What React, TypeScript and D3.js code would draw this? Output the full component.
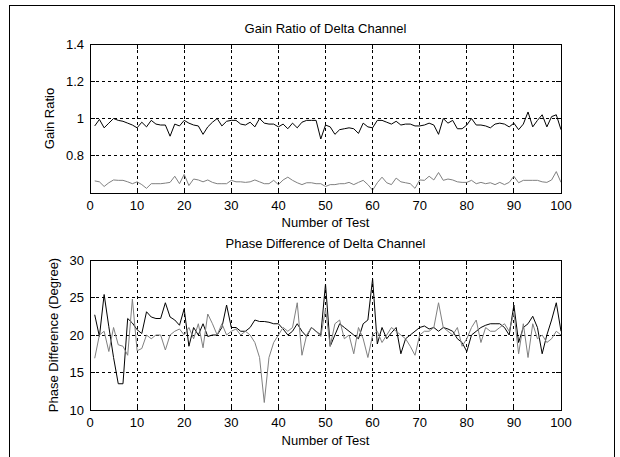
import React from "react";
import * as d3 from "d3";

const testNumbers: number[] = d3.range(1, 101);

const gainBlack: number[] = [
  0.96, 0.995, 0.95, 0.975, 1.0, 0.99, 0.985, 0.975, 0.965, 0.95,
  0.98, 0.955, 0.99, 0.97, 0.965, 0.965, 0.905, 0.97, 0.96, 0.99,
  0.975, 0.965, 0.96, 0.915, 0.955, 0.98, 1.0, 0.96, 0.985, 0.99,
  0.99, 0.97, 0.965, 0.98, 0.955, 1.0, 0.975, 0.97, 0.97, 0.955,
  0.97, 0.945, 0.975, 0.95, 0.98, 0.99, 0.99, 0.99, 0.89, 0.965,
  0.955, 0.915, 0.94, 0.945, 0.95, 0.945, 0.92, 0.975, 0.955, 0.95,
  0.99, 0.99, 0.98, 0.97, 0.985, 0.965, 0.97, 0.97, 0.96, 0.96,
  0.965, 0.975, 0.965, 0.915, 1.0, 0.975, 0.99, 0.945, 0.945, 0.965,
  1.0, 0.965, 0.965, 0.96, 0.95, 0.97, 0.975, 0.97, 0.955, 0.975,
  0.94, 0.97, 1.035, 0.955, 0.99, 1.02, 0.955, 1.01, 1.02, 0.94,
];

const gainGray: number[] = [
  0.665, 0.66, 0.635, 0.655, 0.67, 0.668, 0.668, 0.66, 0.65, 0.66,
  0.645, 0.625, 0.65, 0.65, 0.65, 0.653, 0.657, 0.69, 0.65, 0.7,
  0.64, 0.675, 0.67, 0.66, 0.67, 0.657, 0.65, 0.65, 0.65, 0.668,
  0.66, 0.66, 0.657, 0.66, 0.67, 0.66, 0.65, 0.65, 0.668, 0.645,
  0.67, 0.685, 0.668, 0.655, 0.645, 0.655, 0.655, 0.65, 0.65, 0.635,
  0.645, 0.645, 0.65, 0.65, 0.657, 0.645, 0.657, 0.668, 0.645, 0.615,
  0.655, 0.685, 0.655, 0.645, 0.68, 0.66, 0.655, 0.65, 0.625, 0.67,
  0.668, 0.69, 0.67, 0.71, 0.668, 0.675, 0.67, 0.66, 0.657, 0.657,
  0.668, 0.65, 0.657, 0.65, 0.655, 0.645, 0.657, 0.645, 0.657, 0.69,
  0.655, 0.668, 0.668, 0.668, 0.668, 0.66, 0.657, 0.67, 0.715, 0.657,
];

const phaseBlack: number[] = [
  22.7, 19.8, 25.4, 21.1, 17.0, 13.5, 13.5, 22.2, 21.6, 20.7,
  20.2, 23.1, 22.4, 22.2, 22.2, 24.3, 22.4, 22.0, 21.3, 23.5,
  18.5, 21.0, 20.0, 21.5, 19.8, 20.0, 20.0, 21.0, 24.0, 21.0,
  21.0, 20.5, 20.5, 21.0, 22.0, 21.8, 21.8, 21.7, 21.5, 21.5,
  20.8, 20.0, 20.5, 21.5, 20.5, 19.8, 21.0, 20.5, 20.0, 26.8,
  18.5, 20.0, 21.5, 21.0, 20.5, 20.0, 19.5, 21.5, 22.0, 27.5,
  18.8, 21.0, 19.5, 20.3, 21.0, 17.5, 19.5, 20.0, 20.5, 21.0,
  21.2, 20.8, 21.0, 20.5, 21.0, 20.8, 20.5, 19.5, 19.0, 17.8,
  20.0, 20.5, 21.0, 21.3, 21.5, 21.5, 21.5, 21.0, 20.0, 24.0,
  19.0, 21.0, 21.5, 22.5, 21.0, 17.5, 20.0, 22.0, 24.3, 20.5,
];

const phaseGray: number[] = [
  16.9, 20.0, 20.5, 17.8, 21.0, 18.7, 18.5, 17.3, 24.8, 17.9,
  18.2, 20.0, 19.5, 20.0, 20.0, 18.0, 20.0, 20.5, 20.8, 20.0,
  21.0, 19.5, 21.5, 18.3, 22.8, 21.5, 20.0, 21.5, 20.0, 20.5,
  20.8, 20.0, 20.5, 20.0, 19.0, 17.0, 11.0, 17.0, 19.0, 20.0,
  21.0, 20.5, 21.0, 24.3, 17.3, 20.0, 21.0, 20.5, 19.8, 23.5,
  18.5, 21.5, 22.0, 19.5, 20.0, 17.5, 21.0, 19.5, 17.0, 20.0,
  20.5, 19.0, 20.0, 21.0, 20.5, 20.0, 19.5, 18.5, 17.3, 20.0,
  20.5, 20.5, 21.0, 24.3, 21.0, 20.5, 20.0, 21.0, 18.5, 19.5,
  21.0, 22.0, 19.0, 21.0, 20.5, 20.5, 21.0, 21.5, 20.5, 23.0,
  17.5, 21.5, 17.0, 21.5, 19.5, 20.0, 19.0, 19.5, 20.5, 20.0,
];

const xTicks: number[] = [0, 10, 20, 30, 40, 50, 60, 70, 80, 90, 100];
const gainTicks: number[] = [0.6, 0.8, 1.0, 1.2, 1.4];
const gainTickLabels: string[] = ["", "0.8", "1", "1.2", "1.4"];
const phaseTicks: number[] = [10, 15, 20, 25, 30];
const phaseTickLabels: string[] = ["10", "15", "20", "25", "30"];

const FONT = "'Liberation Sans', Arial, sans-serif";
const FS = 13;

type PanelProps = {
  top: number;
  bottom: number;
  yDomain: [number, number];
  yTicks: number[];
  yLabels: string[];
  title: string;
  titleGap: number;
  xTitleGap: number;
  yTitle: string;
  yTitleGap: number;
  series: { values: number[]; color: string }[];
};

const LEFT = 90;
const RIGHT = 561;

function Panel({ top, bottom, yDomain, yTicks, yLabels, title, titleGap, xTitleGap, yTitle, yTitleGap, series }: PanelProps) {
  const x = d3.scaleLinear().domain([0, 100]).range([LEFT, RIGHT]);
  const y = d3.scaleLinear().domain(yDomain).range([bottom, top]);
  const tl = 5;
  return (
    <g>
      {xTicks.slice(1, -1).map((t) => (
        <line key={"gx" + t} x1={x(t)} x2={x(t)} y1={top} y2={bottom} stroke="#000" strokeWidth={1} strokeDasharray="3,3" shapeRendering="crispEdges" />
      ))}
      {yTicks.slice(1, -1).map((t) => (
        <line key={"gy" + t} x1={LEFT} x2={RIGHT} y1={y(t)} y2={y(t)} stroke="#000" strokeWidth={1} strokeDasharray="3,3" shapeRendering="crispEdges" />
      ))}
      {series.map((s, i) => {
        const line = d3
          .line<number>()
          .x((_, j) => x(testNumbers[j]))
          .y((v) => y(v));
        return <path key={i} d={line(s.values) || ""} fill="none" stroke={s.color} strokeWidth={1} />;
      })}
      {xTicks.map((t) => (
        <g key={"tx" + t}>
          <line x1={x(t)} x2={x(t)} y1={bottom} y2={bottom - tl} stroke="#000" shapeRendering="crispEdges" />
          <line x1={x(t)} x2={x(t)} y1={top} y2={top + tl} stroke="#000" shapeRendering="crispEdges" />
          <text x={x(t)} y={bottom + 17} textAnchor="middle" fontFamily={FONT} fontSize={FS}>{t}</text>
        </g>
      ))}
      {yTicks.map((t, i) => (
        <g key={"ty" + t}>
          <line x1={LEFT} x2={LEFT + tl} y1={y(t)} y2={y(t)} stroke="#000" shapeRendering="crispEdges" />
          <line x1={RIGHT} x2={RIGHT - tl} y1={y(t)} y2={y(t)} stroke="#000" shapeRendering="crispEdges" />
          <text x={LEFT - 6} y={y(t) + 4.5} textAnchor="end" fontFamily={FONT} fontSize={FS}>{yLabels[i]}</text>
        </g>
      ))}
      <rect x={LEFT} y={top} width={RIGHT - LEFT} height={bottom - top} fill="none" stroke="#000" strokeWidth={1} shapeRendering="crispEdges" />
      <text x={(LEFT + RIGHT) / 2} y={top - titleGap} textAnchor="middle" fontFamily={FONT} fontSize={FS}>{title}</text>
      <text x={(LEFT + RIGHT) / 2} y={bottom + xTitleGap} textAnchor="middle" fontFamily={FONT} fontSize={FS}>Number of Test</text>
      <text
        transform={`translate(${LEFT - yTitleGap},${(top + bottom) / 2}) rotate(-90)`}
        textAnchor="middle"
        fontFamily={FONT}
        fontSize={FS}
      >
        {yTitle}
      </text>
    </g>
  );
}

export default function App() {
  return (
    <svg width={620} height={457} style={{ position: "absolute", left: 0, top: 0, background: "#fff" }}>
      <rect x={0} y={0} width={620} height={457} fill="#fff" />
      <rect x={9.5} y={5.5} width={605} height={470} fill="none" stroke="#000" strokeWidth={1} />
      <Panel
        top={44}
        bottom={193}
        yDomain={[0.6, 1.4]}
        yTicks={gainTicks}
        yLabels={gainTickLabels}
        title="Gain Ratio of Delta Channel"
        titleGap={11}
        xTitleGap={34}
        yTitle="Gain Ratio"
        yTitleGap={36}
        series={[
          { values: gainBlack, color: "#000" },
          { values: gainGray, color: "#808080" },
        ]}
      />
      <Panel
        top={260}
        bottom={410}
        yDomain={[10, 30]}
        yTicks={phaseTicks}
        yLabels={phaseTickLabels}
        title="Phase Difference of Delta Channel"
        titleGap={12}
        xTitleGap={35}
        yTitle="Phase Difference (Degree)"
        yTitleGap={32}
        series={[
          { values: phaseBlack, color: "#000" },
          { values: phaseGray, color: "#808080" },
        ]}
      />
    </svg>
  );
}
